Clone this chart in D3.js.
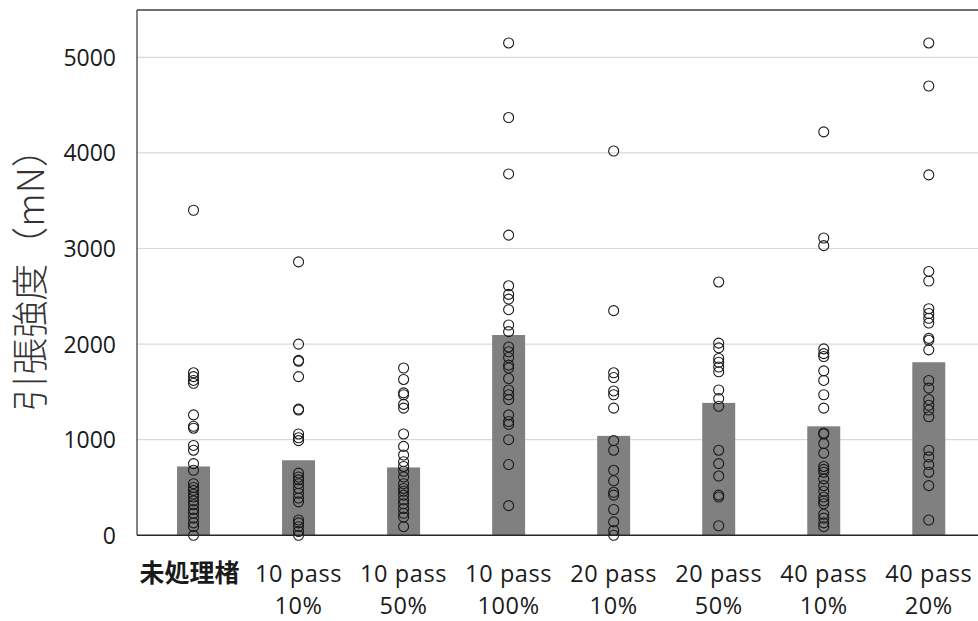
<!DOCTYPE html>
<html><head><meta charset="utf-8">
<script src="https://cdn.jsdelivr.net/npm/d3@7"></script>
<style>body{margin:0;background:#fff;} svg{display:block;}</style>
</head><body>
<svg id="chart" width="978" height="621"></svg>
<script>
const categories = ["c1","c2","c3","c4","c5","c6","c7","c8"];
const labelLine1 = ["未処理楮","10 pass","10 pass","10 pass","20 pass","20 pass","40 pass","40 pass"];
const labelLine2 = ["","10%","50%","100%","10%","50%","10%","20%"];
const barValues = [720,785,710,2095,1040,1385,1140,1810];
const pts1 = [3400,1700,1660,1620,1590,1260,1140,1120,940,890,750,680,540,500,470,430,400,360,320,270,230,180,130,90,0];
const pts2 = [2860,2000,1830,1820,1660,1320,1310,1060,1020,990,650,610,580,540,490,440,390,350,160,130,90,40,0];
const pts3 = [1750,1630,1490,1470,1370,1330,1060,930,840,770,720,670,610,540,490,460,420,370,330,280,230,190,90];
const pts4 = [5150,4370,3780,3140,2610,2520,2470,2360,2200,2130,1970,1920,1860,1780,1750,1640,1520,1470,1420,1260,1190,1160,1000,740,310];
const pts5 = [4020,2350,1700,1650,1510,1470,1330,990,890,680,570,450,420,270,140,50,0];
const pts6 = [2650,2010,1960,1850,1810,1760,1710,1520,1430,1350,890,750,620,420,400,100];
const pts7 = [4220,3110,3030,1950,1900,1870,1720,1620,1470,1330,1070,1060,960,860,720,690,660,590,520,460,400,360,330,220,180,130,90];
const pts8 = [5150,4700,3770,2760,2660,2370,2320,2270,2220,2060,2040,1940,1620,1540,1420,1360,1310,1240,890,820,740,660,520,160];
const points = [pts1,pts2,pts3,pts4,pts5,pts6,pts7,pts8];
const yTicks = [0,1000,2000,3000,4000,5000];
const yTitle = "引張強度（mN）";

const svg = d3.select("#chart");
const plotL = 137, plotT = 10, plotB = 535.3;
const x = d3.scaleBand().domain(categories).range([141, 981.3]).padding(0);
const y = d3.scaleLinear().domain([0, 5500]).range([plotB, 9.5]);

// gridlines
svg.append("g").selectAll("line").data(yTicks.filter(d=>d>0)).join("line")
  .attr("x1", plotL).attr("x2", 978).attr("y1", d=>y(d)).attr("y2", d=>y(d))
  .attr("stroke", "#d9d9d9").attr("stroke-width", 1.2);

// bars
const bw = x.bandwidth()*0.314;
svg.append("g").selectAll("rect").data(barValues).join("rect")
  .attr("x", (d,i)=>x(categories[i]) + x.bandwidth()/2 - bw/2)
  .attr("width", bw)
  .attr("y", d=>y(d)).attr("height", d=>y(0)-y(d))
  .attr("fill", "#808080");

// points
const flat = [];
points.forEach((arr,i)=>arr.forEach(v=>flat.push({c:categories[i], v})));
svg.append("g").selectAll("circle").data(flat).join("circle")
  .attr("cx", d=>x(d.c)+x.bandwidth()/2).attr("cy", d=>y(d.v)).attr("r", 5)
  .attr("fill", "none").attr("stroke", "#1a1a1a").attr("stroke-width", 1.1);

// frame
svg.append("line").attr("x1", plotL).attr("x2", plotL).attr("y1", plotT).attr("y2", plotB).attr("stroke", "#404040").attr("stroke-width", 1.3);
svg.append("line").attr("x1", plotL).attr("x2", 978).attr("y1", plotT).attr("y2", plotT).attr("stroke", "#404040").attr("stroke-width", 1.5);
svg.append("line").attr("x1", plotL).attr("x2", 978).attr("y1", plotB).attr("y2", plotB).attr("stroke", "#262626").attr("stroke-width", 1.5);

// y axis labels
const yAxis = d3.axisLeft(y).tickValues(yTicks).tickFormat(d3.format("d")).tickSize(0).tickPadding(0);
const gy = svg.append("g").attr("transform", "translate(116,0)").call(yAxis);
gy.select(".domain").remove();
gy.selectAll("text").attr("font-family", "'Open Sans', 'Noto Sans', sans-serif").attr("font-size", 23).attr("fill", "#1a1a1a").attr("dy", "0.35em");

// x labels
const gx = svg.append("g");
categories.forEach((c,i)=>{
  const cx = x(c)+x.bandwidth()/2;
  gx.append("text").attr("x", i===0 ? cx - 4 : cx).attr("y", 582).attr("text-anchor", "middle")
    .attr("font-family", i===0 ? "'Noto Sans CJK JP', sans-serif" : "'Open Sans', sans-serif")
    .attr("font-size", i===0 ? 25 : 23.5).attr("fill", "#1a1a1a")
    .attr("letter-spacing", i===0 ? 0 : 0.6)
    .attr("font-weight", i===0 ? "bold" : "normal").text(labelLine1[i]);
  if (labelLine2[i]) {
    gx.append("text").attr("x", cx).attr("y", 614).attr("text-anchor", "middle")
      .attr("font-family", "'Open Sans', sans-serif").attr("font-size", 23.5).attr("fill", "#1a1a1a")
      .attr("letter-spacing", 0.6)
      .text(labelLine2[i]);
  }
});

// y title
svg.append("text").attr("transform", "translate(44,271) rotate(-90)").attr("text-anchor", "middle")
  .attr("font-family", "'Noto Sans CJK JP', sans-serif").attr("font-size", 37).attr("font-weight", 300)
  .attr("fill", "#333333").text(yTitle);
</script>
</body></html>
